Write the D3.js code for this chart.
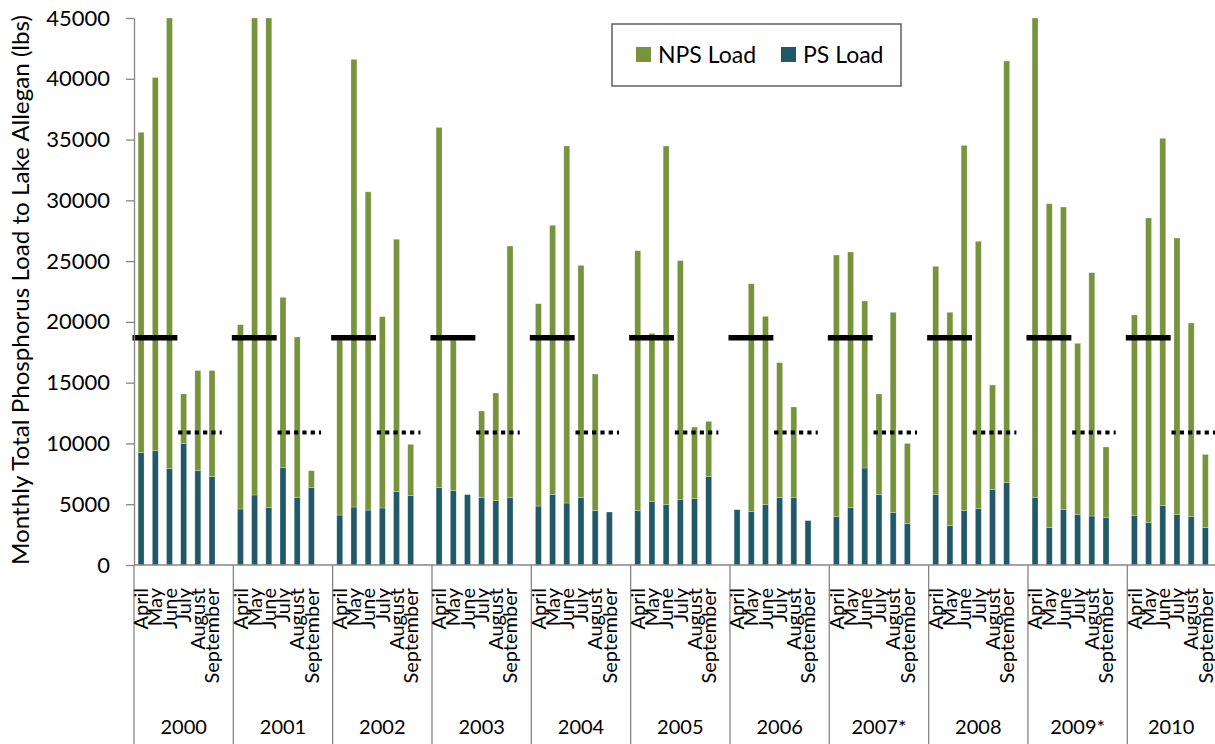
<!DOCTYPE html>
<html>
<head>
<meta charset="utf-8">
<script src="https://cdn.jsdelivr.net/npm/d3@7"></script>
<style>
  html, body { margin: 0; padding: 0; background: #fff; }
  svg { display: block; font-family: Lato, "Noto Sans", sans-serif; }
</style>
</head>
<body>
<svg id="chart" width="1215" height="744"></svg>
<script>
// ---------------- data ----------------
const years = ["2000", "2001", "2002", "2003", "2004", "2005", "2006", "2007*", "2008", "2009*", "2010"];
const months = ["April", "May", "June", "July", "August", "September"];

// Point-source load (lbs) per year, April..September
const psLoad = [
  [9240, 9400, 7920, 10000, 7760, 7270],
  [4610, 5760, 4740, 8000, 5540, 6360],
  [4110, 4770, 4520, 4690, 6030, 5700],
  [6360, 6110, 5790, 5570, 5290, 5570],
  [4850, 5790, 5100, 5540, 4470, 4360],
  [4470, 5210, 4960, 5370, 5460, 7270],
  [4550, 4390, 4960, 5540, 5540, 3650],
  [3970, 4720, 7980, 5790, 4310, 3400],
  [5790, 3240, 4470, 4640, 6220, 6770],
  [5540, 3070, 4550, 4170, 4030, 3890],
  [4060, 3480, 4880, 4140, 3970, 3070]
];

// Non-point-source load (lbs) per year, April..September
const npsLoad = [
  [26360, 30700, 37080, 4070, 8240, 8730],
  [15160, 39240, 40260, 14020, 13220, 1400],
  [14390, 36830, 26180, 15740, 20770, 4230],
  [29640, 12390, 0, 7100, 8860, 20670],
  [16650, 22160, 29370, 19110, 11240, 0],
  [21390, 13850, 29510, 19670, 5890, 4550],
  [0, 18750, 15500, 11110, 7460, 0],
  [21530, 21030, 13740, 8280, 16480, 6600],
  [18780, 17550, 30050, 21990, 8590, 34690],
  [39460, 26650, 24900, 14070, 20020, 5820],
  [16510, 25070, 30220, 22760, 15940, 6030]
];

// Monthly target lines (lbs): April-June solid, July-September dotted
const targetSpring = 18700;
const targetSummer = 10900;

const yTicks = [0, 5000, 10000, 15000, 20000, 25000, 30000, 35000, 40000, 45000];
const yTitle = "Monthly Total Phosphorus Load to Lake Allegan (lbs)";
const seriesNames = ["NPS Load", "PS Load"];

// ---------------- layout ----------------
const W = 1215, H = 744;
const plotLeft = 134, plotTop = 18, plotBottom = 565;
const slotsPerYear = months.length + 1;           // six months + blank gap
const step = 14.19;
const plotRight = plotLeft + years.length * slotsPerYear * step;

const colNPS = "#77933c", colPS = "#215968", axisCol = "#868686";

const svg = d3.select("#chart");

// slot keys
const slotKeys = [];
years.forEach(yr => {
  months.forEach(m => slotKeys.push(yr + "|" + m));
  slotKeys.push(yr + "|gap");
});

const x = d3.scaleBand()
  .domain(slotKeys)
  .range([plotLeft, plotRight])
  .paddingInner(0.58)
  .paddingOuter(0.29);

const y = d3.scaleLinear().domain([0, 45000]).range([plotBottom, plotTop]);

const stepX = x.step();
const slotStart = key => x(key) - (stepX - x.bandwidth()) / 2;

// rows for stacking
const rows = [];
years.forEach((yr, i) => {
  months.forEach((m, j) => {
    rows.push({ key: yr + "|" + m, ps: psLoad[i][j], nps: npsLoad[i][j] });
  });
});

const stack = d3.stack().keys(["ps", "nps"]);
const stacked = stack(rows);
const colors = { ps: colPS, nps: colNPS };

// clip to plot area
svg.append("clipPath").attr("id", "plotclip")
  .append("rect").attr("x", plotLeft).attr("y", plotTop)
  .attr("width", plotRight - plotLeft).attr("height", plotBottom - plotTop);

const barsG = svg.append("g").attr("clip-path", "url(#plotclip)");
stacked.forEach(layer => {
  barsG.append("g")
    .selectAll("rect")
    .data(layer.filter(d => d[1] - d[0] > 0))
    .join("rect")
    .attr("x", d => x(d.data.key))
    .attr("width", x.bandwidth())
    .attr("y", d => y(d[1]))
    .attr("height", d => y(d[0]) - y(d[1]))
    .attr("fill", colors[layer.key])
    .attr("stroke", "rgba(255,255,255,0.45)")
    .attr("stroke-width", 0.6);
});

// target lines
const tgt = svg.append("g");
years.forEach(yr => {
  tgt.append("line")
    .attr("x1", slotStart(yr + "|" + months[0]) - 1.5)
    .attr("x2", slotStart(yr + "|" + months[3]) + 0.8)
    .attr("y1", y(targetSpring)).attr("y2", y(targetSpring))
    .attr("stroke", "#000").attr("stroke-width", 5.6);
  tgt.append("line")
    .attr("x1", slotStart(yr + "|" + months[3]) + 1.6)
    .attr("x2", slotStart(yr + "|gap") + 2.6)
    .attr("y1", y(targetSummer)).attr("y2", y(targetSummer))
    .attr("stroke", "#000").attr("stroke-width", 3.8)
    .attr("stroke-dasharray", "4.2,4.1");
});

// y axis
const yAxis = d3.axisLeft(y).tickValues(yTicks).tickFormat(d3.format("d"))
  .tickSize(8).tickPadding(16).tickSizeOuter(0);
const yg = svg.append("g").attr("transform", `translate(${plotLeft},0)`).call(yAxis);
yg.select(".domain").attr("stroke", axisCol).attr("stroke-width", 1.3);
yg.selectAll(".tick line").attr("stroke", axisCol).attr("stroke-width", 1.3);
yg.selectAll(".tick text").attr("fill", "#000").style("font-size", "22px").style("font-family", "Lato");

// x axis baseline
svg.append("line")
  .attr("x1", plotLeft).attr("x2", plotRight)
  .attr("y1", plotBottom).attr("y2", plotBottom)
  .attr("stroke", axisCol).attr("stroke-width", 1.3);

// group separators
const bounds = years.map(yr => slotStart(yr + "|" + months[0])).concat([plotRight]);
svg.append("g").selectAll("line")
  .data(bounds)
  .join("line")
  .attr("x1", d => d).attr("x2", d => d)
  .attr("y1", plotBottom).attr("y2", H)
  .attr("stroke", axisCol).attr("stroke-width", 1.3);

// month labels
const monthG = svg.append("g");
rows.forEach(r => {
  const m = r.key.split("|")[1];
  monthG.append("text")
    .attr("transform", `translate(${x(r.key) + x.bandwidth() / 2},588) rotate(-90)`)
    .attr("text-anchor", "end")
    .attr("dy", "0.36em")
    .style("font-size", "20px")
    .attr("fill", "#000")
    .text(m);
});

// year labels
svg.append("g").selectAll("text")
  .data(years)
  .join("text")
  .attr("x", (yr, i) => (bounds[i] + Math.min(bounds[i + 1], W)) / 2)
  .attr("y", 734)
  .attr("text-anchor", "middle")
  .style("font-size", "20px")
  .attr("fill", "#000")
  .text(d => d);

// y title
svg.append("text")
  .attr("transform", "translate(29,290) rotate(-90)")
  .attr("text-anchor", "middle")
  .attr("textLength", 550)
  .attr("lengthAdjust", "spacingAndGlyphs")
  .style("font-size", "22.5px")
  .attr("fill", "#000")
  .text(yTitle);

// legend
const lg = svg.append("g");
lg.append("rect").attr("x", 612).attr("y", 24).attr("width", 289).attr("height", 62)
  .attr("fill", "#fff").attr("stroke", "#5f5f5f").attr("stroke-width", 1.5);
const legendItems = [
  { name: seriesNames[0], color: colNPS, x: 636 },
  { name: seriesNames[1], color: colPS, x: 781 }
];
legendItems.forEach(it => {
  lg.append("rect").attr("x", it.x).attr("y", 47).attr("width", 15).attr("height", 15).attr("fill", it.color);
  lg.append("text").attr("x", it.x + 22).attr("y", 63)
    .style("font-size", "23px").attr("fill", "#000").text(it.name);
});
</script>
</body>
</html>
